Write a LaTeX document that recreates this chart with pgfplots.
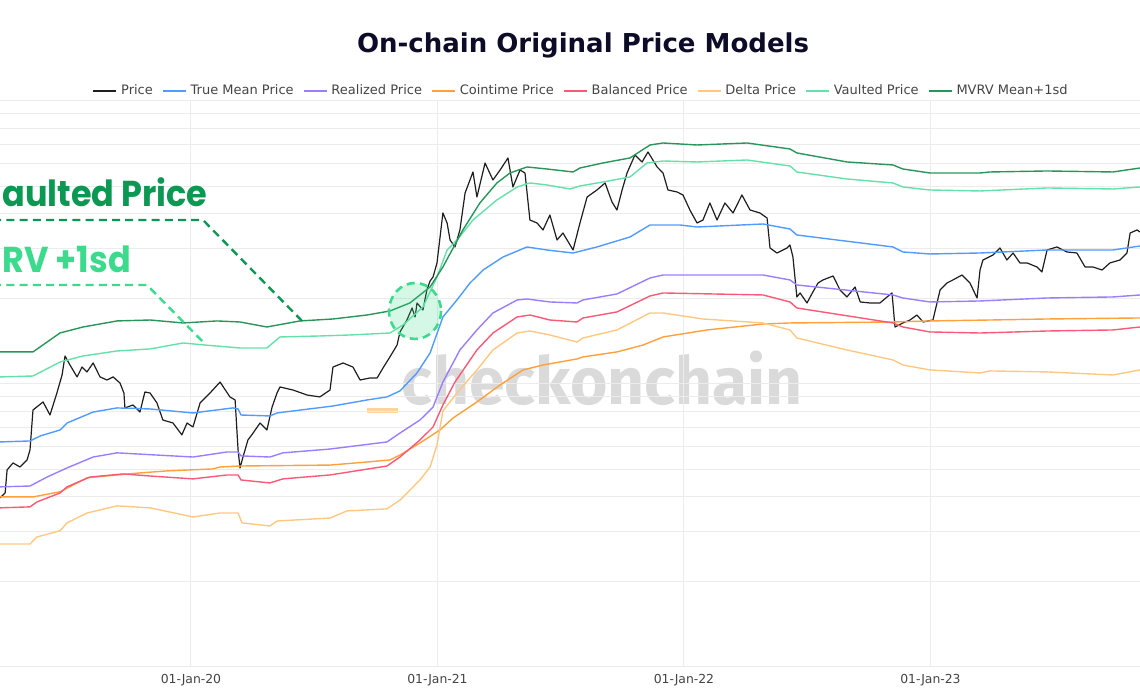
\documentclass[border=0pt]{standalone}
\usepackage{fontspec}
\setmainfont{DejaVu Sans}
\newfontfamily\annfont{Poppins}
\newfontfamily\wmfont{Fira Sans}
\usepackage{graphicx}
\usepackage{pgfplots}
\pgfplotsset{compat=1.18}
\definecolor{cPrice}{RGB}{30,30,30}
\definecolor{cTrue}{RGB}{80,155,255}
\definecolor{cReal}{RGB}{155,125,255}
\definecolor{cCoin}{RGB}{255,160,60}
\definecolor{cBal}{RGB}{250,90,120}
\definecolor{cDelta}{RGB}{255,200,130}
\definecolor{cVault}{RGB}{100,225,170}
\definecolor{cMVRV}{RGB}{40,150,90}
\definecolor{annDark}{RGB}{10,152,82}
\definecolor{annLight}{RGB}{60,218,140}
\definecolor{gridc}{RGB}{236,236,236}
\definecolor{wm}{RGB}{218,218,218}
\definecolor{wmo}{RGB}{255,212,155}
\definecolor{tickc}{RGB}{68,68,68}
\definecolor{titlec}{RGB}{12,12,40}
\begin{document}
\begin{tikzpicture}
\useasboundingbox (0,0) rectangle (570pt,347pt);
% watermark (pixel coordinates from top-left)
\begin{scope}[shift={(0,347pt)}, x=0.5pt, y=-0.5pt]
 \fill[wmo] (367,408) rectangle (398,413);
 \node[anchor=base west, text=wm, inner sep=0pt, font=\wmfont\bfseries\fontsize{33}{33}\selectfont] at (401,405) {\scalebox{0.973}[1]{checkonchain}};
\end{scope}
\begin{axis}[
 at={(0,13.5pt)}, anchor=south west,
 scale only axis, width=570pt, height=283pt,
 xmin=2019.2252, xmax=2023.850,
 ymode=log, log basis y=10, ymin=1000, ymax=100000,
 xtick={2020,2021,2022,2023},
 xticklabels={01-Jan-20,01-Jan-21,01-Jan-22,01-Jan-23},
 ytick={1000,10000,100000},
 minor ytick={2000,3000,4000,5000,6000,7000,8000,9000,20000,30000,40000,50000,60000,70000,80000,90000},
 yticklabels={},
 xmajorgrids, ymajorgrids, yminorgrids,
 grid style={gridc, line width=0.5pt},
 minor grid style={gridc, line width=0.5pt},
 axis line style={draw=none},
 major tick length=0pt, minor tick length=0pt,
 tick label style={font=\fontsize{6.2}{7}\selectfont, text=tickc},
 legend columns=8,
 legend style={at={(0.5105,1.018)}, anchor=center, draw=none, fill=none,
   font=\fontsize{6.5}{8}\selectfont, text=tickc, inner sep=0pt,
   nodes={inner sep=2pt},
   /tikz/every even column/.append style={column sep=2.5pt}},
 legend cell align=left,
 legend image code/.code={\draw[#1, line width=0.9pt] (0pt,0pt) -- (11.5pt,0pt);},
 every axis title shift=0pt,
 title={On-chain Original Price Models},
 title style={at={(0.5114,1.099)}, anchor=center, font=\bfseries\fontsize{13}{15}\selectfont, text=titlec},
 every axis plot/.append style={line width=0.7pt, line join=round},
]
% Price
\addplot[cPrice, line width=0.6pt] coordinates {
(2019.225,3960)(2019.246,4120)(2019.254,4970)(2019.278,5260)(2019.306,5090)(2019.335,5390)
(2019.347,5850)(2019.359,8090)(2019.400,8640)(2019.428,7770)(2019.456,9290)(2019.477,10760)
(2019.489,12560)(2019.509,11670)(2019.538,10590)(2019.558,11480)(2019.578,11030)(2019.603,11860)
(2019.631,10590)(2019.659,10330)(2019.684,10590)(2019.712,10080)(2019.728,9290)(2019.732,8230)
(2019.765,8430)(2019.793,7960)(2019.813,9370)(2019.834,9290)(2019.862,8570)(2019.886,7460)
(2019.927,7280)(2019.963,6610)(2019.984,7280)(2020.008,7050)(2020.037,8570)(2020.077,9290)
(2020.118,10160)(2020.158,9000)(2020.179,8780)(2020.191,5850)(2020.199,5050)(2020.211,5520)
(2020.231,6340)(2020.252,6710)(2020.280,7280)(2020.308,6880)(2020.329,8290)(2020.349,9290)
(2020.361,9760)(2020.414,9520)(2020.471,9140)(2020.523,9000)(2020.564,9520)(2020.576,11480)
(2020.617,11860)(2020.657,11480)(2020.686,10330)(2020.726,10500)(2020.755,10500)(2020.779,11390)
(2020.807,12460)(2020.836,13730)(2020.848,15270)(2020.876,16830)(2020.897,18560)(2020.909,17250)
(2020.917,19330)(2020.941,18260)(2020.957,21490)(2020.970,23120)(2020.982,23880)(2020.998,26770)
(2021.022,40200)(2021.039,37060)(2021.051,32270)(2021.071,30490)(2021.091,35010)(2021.112,47310)
(2021.144,56120)(2021.160,45790)(2021.193,60390)(2021.225,52580)(2021.254,57040)(2021.286,62900)
(2021.306,49670)(2021.335,57040)(2021.355,55660)(2021.375,37970)(2021.404,37060)(2021.428,35010)
(2021.456,39550)(2021.485,32270)(2021.509,34160)(2021.550,29750)(2021.578,37060)(2021.607,45790)
(2021.647,48470)(2021.680,51320)(2021.708,43960)(2021.728,41190)(2021.749,48470)(2021.769,55660)
(2021.801,64440)(2021.830,60880)(2021.854,66040)(2021.891,58450)(2021.915,55660)(2021.935,48470)
(2021.972,47690)(2021.996,46540)(2022.024,41190)(2022.053,37060)(2022.077,37970)(2022.105,43610)
(2022.134,37970)(2022.166,43610)(2022.199,40200)(2022.235,46540)(2022.268,41190)(2022.308,40200)
(2022.337,38600)(2022.349,30240)(2022.377,29030)(2022.418,30240)(2022.430,30990)(2022.442,28100)
(2022.458,20300)(2022.471,20970)(2022.499,19330)(2022.523,21140)(2022.544,22750)(2022.564,23310)
(2022.605,24080)(2022.633,21490)(2022.661,20300)(2022.694,22020)(2022.715,19490)(2022.755,19330)
(2022.795,19330)(2022.824,20300)(2022.844,20970)(2022.856,15900)(2022.888,16430)(2022.917,16830)
(2022.945,17530)(2022.970,16560)(2023.010,16830)(2023.039,21490)(2023.067,22750)(2023.091,23310)
(2023.128,24270)(2023.160,22750)(2023.189,20130)(2023.201,25280)(2023.213,27430)(2023.254,28560)
(2023.282,30240)(2023.310,27430)(2023.335,29030)(2023.363,26770)(2023.392,26770)(2023.432,25910)
(2023.452,24870)(2023.473,29750)(2023.513,30490)(2023.554,29270)(2023.594,29030)(2023.627,25910)
(2023.659,25910)(2023.696,25280)(2023.728,26770)(2023.769,27430)(2023.797,29030)(2023.810,34160)
(2023.838,35010)(2023.850,34440)
};
\addlegendentry{Price}
% True Mean Price
\addplot[cTrue] coordinates {
(2019.225,6240)(2019.347,6290)(2019.388,6550)(2019.469,6880)(2019.497,7280)(2019.603,7960)
(2019.700,8230)(2019.834,8160)(2020.008,7900)(2020.170,8230)(2020.191,8160)(2020.203,7770)
(2020.320,7710)(2020.349,7900)(2020.576,8360)(2020.714,8780)(2020.795,9000)(2020.848,9450)
(2020.917,10940)(2020.970,12870)(2021.022,17250)(2021.079,19810)(2021.132,22750)(2021.185,25280)
(2021.266,28100)(2021.363,30490)(2021.444,29750)(2021.550,29030)(2021.647,30490)(2021.781,33070)
(2021.862,36460)(2021.984,36460)(2022.053,35870)(2022.321,36760)(2022.430,35290)(2022.458,33610)
(2022.848,30490)(2022.888,29270)(2022.998,28800)(2023.201,29030)(2023.473,29750)(2023.740,29750)
(2023.850,30730)
};
\addlegendentry{True Mean Price}
% Realized Price
\addplot[cReal] coordinates {
(2019.225,4330)(2019.347,4360)(2019.416,4690)(2019.497,5050)(2019.603,5520)(2019.700,5710)
(2020.008,5520)(2020.146,5750)(2020.191,5750)(2020.203,5570)(2020.320,5520)(2020.373,5710)
(2020.564,5890)(2020.795,6240)(2020.848,6710)(2020.929,7460)(2020.982,8290)(2021.022,10160)
(2021.091,13190)(2021.160,15520)(2021.225,17820)(2021.323,19810)(2021.363,19970)(2021.456,19490)
(2021.566,19330)(2021.590,19810)(2021.728,20800)(2021.862,23690)(2021.915,24270)(2022.321,24270)
(2022.430,23310)(2022.458,22380)(2022.848,20630)(2022.888,20130)(2022.998,19490)(2023.201,19650)
(2023.473,20130)(2023.740,20300)(2023.850,20630)
};
\addlegendentry{Realized Price}
% Cointime Price
\addplot[cCoin] coordinates {
(2019.225,3990)(2019.359,3990)(2019.469,4160)(2019.578,4660)(2019.700,4770)(2019.793,4850)
(2019.903,4930)(2020.089,5010)(2020.118,5090)(2020.199,5130)(2020.564,5170)(2020.714,5300)
(2020.807,5390)(2020.848,5610)(2020.929,6190)(2021.010,6880)(2021.063,7580)(2021.160,8640)
(2021.254,9920)(2021.347,11210)(2021.428,11670)(2021.566,12260)(2021.590,12460)(2021.728,12980)
(2021.834,13730)(2021.915,14660)(2022.093,15520)(2022.321,16290)(2022.430,16430)(2022.848,16560)
(2022.998,16700)(2023.241,16830)(2023.473,16970)(2023.850,17110)
};
\addlegendentry{Cointime Price}
% Balanced Price
\addplot[cBal] coordinates {
(2019.225,3650)(2019.347,3680)(2019.375,3830)(2019.469,4120)(2019.497,4330)(2019.590,4690)
(2019.724,4810)(2019.834,4730)(2020.008,4620)(2020.146,4770)(2020.191,4770)(2020.203,4580)
(2020.320,4470)(2020.373,4620)(2020.564,4770)(2020.795,5130)(2020.848,5520)(2020.929,6340)
(2020.982,7050)(2021.022,8430)(2021.071,10160)(2021.160,13190)(2021.225,15140)(2021.323,17250)
(2021.375,17530)(2021.456,16830)(2021.566,16560)(2021.590,17110)(2021.728,17970)(2021.862,20460)
(2021.915,20970)(2022.321,20630)(2022.430,19490)(2022.458,18560)(2022.848,16430)(2022.888,15900)
(2022.998,15270)(2023.201,15140)(2023.473,15390)(2023.740,15520)(2023.850,15900)
};
\addlegendentry{Balanced Price}
% Delta Price
\addplot[cDelta] coordinates {
(2019.225,2720)(2019.347,2720)(2019.375,2880)(2019.469,3030)(2019.497,3230)(2019.578,3500)
(2019.700,3710)(2019.834,3650)(2020.008,3390)(2020.118,3500)(2020.191,3500)(2020.207,3230)
(2020.320,3150)(2020.349,3280)(2020.564,3360)(2020.633,3560)(2020.795,3620)(2020.848,3890)
(2020.929,4580)(2020.970,5090)(2020.998,6090)(2021.022,8030)(2021.079,9290)(2021.160,11210)
(2021.225,13190)(2021.323,15140)(2021.375,15390)(2021.456,14900)(2021.566,14070)(2021.590,14540)
(2021.728,15520)(2021.862,17820)(2021.915,17820)(2022.077,16970)(2022.321,16430)(2022.430,15520)
(2022.458,14540)(2022.661,13190)(2022.848,12160)(2022.888,11670)(2022.998,11210)(2023.201,10940)
(2023.241,11120)(2023.473,11030)(2023.740,10760)(2023.850,11210)
};
\addlegendentry{Delta Price}
% Vaulted Price
\addplot[cVault] coordinates {
(2019.225,10590)(2019.359,10670)(2019.469,11960)(2019.562,12560)(2019.700,13080)(2019.834,13300)
(2019.968,13960)(2020.057,13730)(2020.199,13400)(2020.308,13400)(2020.361,14660)(2020.523,14780)
(2020.645,14900)(2020.807,15140)(2020.860,16160)(2020.941,18710)(2020.998,23880)(2021.039,29750)
(2021.079,32270)(2021.144,37970)(2021.241,44690)(2021.323,49670)(2021.375,51320)(2021.444,50490)
(2021.538,48870)(2021.578,50080)(2021.671,51730)(2021.781,53880)(2021.850,60390)(2021.915,61370)
(2022.053,60880)(2022.256,61870)(2022.430,58930)(2022.458,56120)(2022.661,53010)(2022.848,51320)
(2022.888,49670)(2022.998,48470)(2023.201,48080)(2023.473,49270)(2023.740,48870)(2023.850,49670)
};
\addlegendentry{Vaulted Price}
% MVRV Mean+1sd
\addplot[cMVRV] coordinates {
(2019.225,12980)(2019.359,12980)(2019.469,15150)(2019.562,15900)(2019.700,16700)(2019.834,16830)
(2019.968,16430)(2020.105,16700)(2020.199,16560)(2020.308,15900)(2020.442,16700)(2020.576,16970)
(2020.714,17530)(2020.807,18110)(2020.888,19330)(2020.970,22020)(2021.022,25910)(2021.103,35010)
(2021.172,43610)(2021.241,51310)(2021.294,55660)(2021.363,58450)(2021.444,57500)(2021.550,56120)
(2021.578,57970)(2021.671,60390)(2021.781,62900)(2021.862,69900)(2021.915,71050)(2022.053,69900)
(2022.256,71050)(2022.430,67670)(2022.458,65510)(2022.661,60890)(2022.848,59410)(2022.888,57500)
(2022.998,55660)(2023.201,55660)(2023.241,56120)(2023.473,56580)(2023.740,56120)(2023.850,57970)
};
\addlegendentry{MVRV Mean+1sd}
\end{axis}
% annotations (pixel coordinates from top-left)
\begin{scope}[shift={(0,347pt)}, x=0.5pt, y=-0.5pt]
 \fill[annLight, opacity=0.22] (415,311) ellipse [x radius=26, y radius=28];
 \draw[annLight, line width=1.3pt, dash pattern=on 4pt off 2.6pt] (415,311) ellipse [x radius=26, y radius=28];
 \draw[annDark, line width=1.2pt, dash pattern=on 4pt off 2.6pt] (-20,220) -- (203,220) -- (302,321);
 \draw[annLight, line width=1.2pt, dash pattern=on 4pt off 2.6pt] (-20,285) -- (147,285) -- (205,344);
 \node[anchor=base west, inner sep=0pt, text=annDark, font=\annfont\bfseries\fontsize{18}{18}\selectfont] at (2,207) {\scalebox{0.93}[1]{aulted Price}};
 \node[anchor=base west, inner sep=0pt, text=annLight, font=\annfont\bfseries\fontsize{18}{18}\selectfont] at (2,273) {\scalebox{0.93}[1]{RV +1sd}};
\end{scope}
\end{tikzpicture}
\end{document}
